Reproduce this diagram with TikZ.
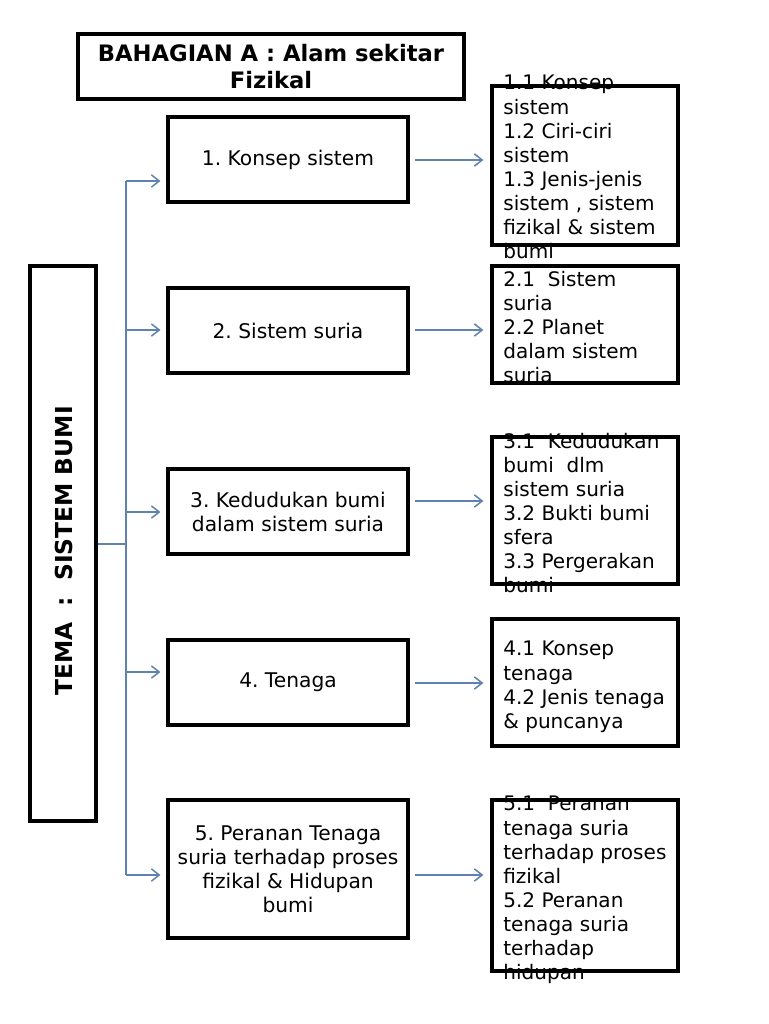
\documentclass[tikz,border=0pt]{standalone}
\usepackage{fontspec}
\setmainfont{DejaVu Sans}
\usetikzlibrary{arrows.meta}
\definecolor{linkblue}{RGB}{95,130,175}
\frenchspacing

\begin{document}
\begin{tikzpicture}[
        x=0.02cm, y=-0.02cm,
        heading_box/.style={rectangle, draw, line width=1.8pt, minimum width=7.72cm, minimum height=1.3cm, font=\fontsize{12.9}{15.5}\selectfont\bfseries, align=center},
        theme_box/.style={rectangle, draw, line width=1.8pt, minimum width=1.32cm, minimum height=11.1cm},
        topic_box/.style={rectangle, draw, line width=1.8pt, minimum width=4.8cm, minimum height=1.7cm, font=\fontsize{11.5}{13.7}\selectfont, align=center},
        sub_box/.style={rectangle, draw, line width=1.8pt, minimum width=3.72cm},
        sub_text/.style={anchor=north west, inner sep=0pt, align=left, font=\fontsize{11.4}{13.7}\selectfont},
        link/.style={draw=linkblue, line width=0.85pt},
        link_arrow/.style={link, -{Straight Barb[length=4.5pt, width=7pt]}}
    ]
        \useasboundingbox (0,0) rectangle (768,1024);
        % Judul
        \node[heading_box] (title) at (271,66.5) {BAHAGIAN A : Alam sekitar\\Fizikal};
        % Tema
        \node[theme_box] (tema) at (63,543.5) {};
        \node[rotate=90, font=\fontsize{13.3}{15}\selectfont\bfseries] (tematext) at (64,551) {TEMA\ \ :\ \ SISTEM BUMI};
        % Topik
        \node[topic_box] (m1) at (288,159.5) {1. Konsep sistem};
        \node[topic_box] (m2) at (288,330.5) {2. Sistem suria};
        \node[topic_box] (m3) at (288,511.5) {3. Kedudukan bumi\\dalam sistem suria};
        \node[topic_box] (m4) at (288,682.5) {4. Tenaga};
        \node[topic_box, minimum height=2.76cm] (m5) at (288,869) {5. Peranan Tenaga\\suria terhadap proses\\fizikal \& Hidupan\\bumi};
        % Subtopik
        \node[sub_box, minimum height=3.18cm] (r1) at (585,165.5) {};
        \node[sub_box, minimum height=2.34cm] (r2) at (585,324.5) {};
        \node[sub_box, minimum height=2.94cm] (r3) at (585,510.5) {};
        \node[sub_box, minimum height=2.54cm] (r4) at (585,682.5) {};
        \node[sub_box, minimum height=3.42cm] (r5) at (585,885.5) {};
        \node[sub_text] (s1) at (503,75) {1.1 Konsep\\sistem\\1.2 Ciri-ciri\\sistem\\1.3 Jenis-jenis\\sistem , sistem\\fizikal \& sistem\\bumi};
        \node[sub_text] (s2) at (503,271) {2.1\ \ Sistem\\suria\\2.2 Planet\\dalam sistem\\suria};
        \node[sub_text] (s3) at (503,433) {3.1\ \ Kedudukan\\bumi\ \ dlm\\sistem suria\\3.2 Bukti bumi\\sfera\\3.3 Pergerakan\\bumi};
        \node[sub_text] (s4) at (503,641) {4.1 Konsep\\tenaga\\4.2 Jenis tenaga\\\& puncanya};
        \node[sub_text] (s5) at (503,796) {5.1\ \ Peranan\\tenaga suria\\terhadap proses\\fizikal\\5.2 Peranan\\tenaga suria\\terhadap\\hidupan};
        % Cabang
        \coordinate (j) at (126,544);
        \coordinate (t1) at (126,181);
        \coordinate (t2) at (126,330);
        \coordinate (t3) at (126,512);
        \coordinate (t4) at (126,672);
        \coordinate (t5) at (126,875);
        \draw[link] (tema.east |- j) -- (j);
        \draw[link] (t1) -- (t5);
        \foreach \i in {1,...,5}
            \draw[link_arrow, shorten >=3.4pt] (t\i) -- (t\i -| m\i.west);
        % Anak panah ke subtopik
        \coordinate (a1) at (408,160);
        \coordinate (a2) at (408,330);
        \coordinate (a3) at (408,501);
        \coordinate (a4) at (408,683);
        \coordinate (a5) at (408,875);
        \foreach \i in {1,...,5}
            \draw[link_arrow, shorten <=4pt, shorten >=4pt] (a\i) -- (a\i -| r\i.west);
    \end{tikzpicture}
\end{document}
